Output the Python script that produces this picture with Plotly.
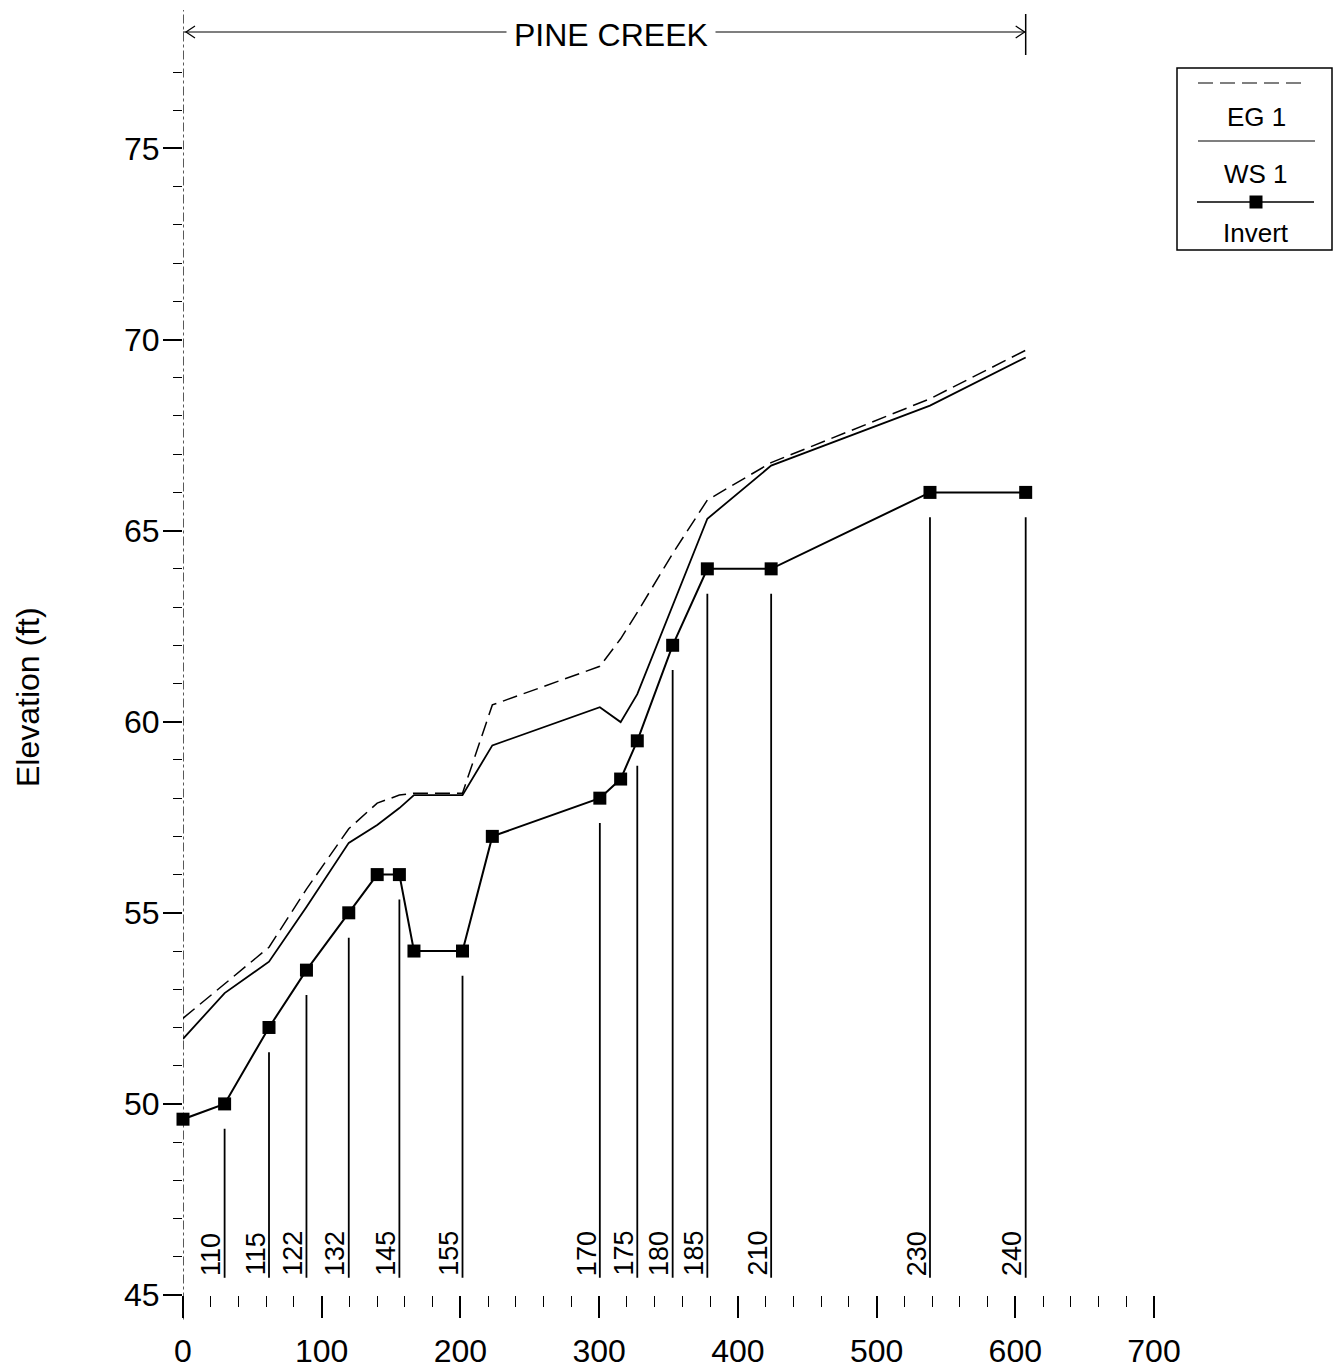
import plotly.graph_objects as go

# ---------------- data ----------------
stations = [0, 30, 62, 89, 119.5, 140, 156, 166.5, 201.5, 223, 300.5, 315.5,
            327.5, 353, 378, 424, 538.5, 607.5]
invert = [49.6, 50.0, 52.0, 53.5, 55.0, 56.0, 56.0, 54.0, 54.0, 57.0, 58.0, 58.5,
          59.5, 62.0, 64.0, 64.0, 66.0, 66.0]
ws1 = [51.7, 52.9, 53.72, 55.15, 56.83, 57.3, 57.74, 58.08, 58.08, 59.38, 60.38, 59.99,
       60.72, 63.05, 65.31, 66.70, 68.27, 69.53]
eg1 = [52.24, 53.15, 54.1, 55.62, 57.2, 57.87, 58.08, 58.13, 58.13, 60.44, 61.45, 62.17,
       62.86, 64.4, 65.8, 66.78, 68.45, 69.72]

section_labels = ["110", "115", "122", "132", "145", "155", "170", "175", "180",
                  "185", "210", "230", "240"]
section_stations = [30, 62, 89, 119.5, 156, 201.5, 300.5, 327.5, 353, 378, 424,
                    538.5, 607.5]

reach_name = "PINE CREEK"
x_ticks = [0, 100, 200, 300, 400, 500, 600, 700]
y_ticks = [45, 50, 55, 60, 65, 70, 75]

# ---------------- layout helpers ----------------
W, H = 1340, 1370
ML, MR, MT, MB = 183, 186, 72, 75
PW, PH = W - ML - MR, H - MT - MB
FONT = "Liberation Sans, Arial, sans-serif"


def px_x(p):
    return (p - ML) / PW


def px_y(p):
    return (H - MB - p) / PH


fig = go.Figure()

fig.add_trace(go.Scatter(x=stations, y=eg1, mode="lines", name="EG 1",
                         line=dict(color="black", width=1.5, dash="15px,7px"),
                         showlegend=False, cliponaxis=False))
fig.add_trace(go.Scatter(x=stations, y=ws1, mode="lines", name="WS 1",
                         line=dict(color="black", width=1.8),
                         showlegend=False, cliponaxis=False))
fig.add_trace(go.Scatter(x=stations, y=invert, mode="lines+markers", name="Invert",
                         line=dict(color="black", width=2),
                         marker=dict(symbol="square", size=13, color="black"),
                         showlegend=False, cliponaxis=False))

shapes = []
annotations = []

inv_lookup = dict(zip(stations, invert))
for lab, st in zip(section_labels, section_stations):
    shapes.append(dict(type="line", xref="x", yref="y", x0=st, x1=st,
                       y0=45.45, y1=inv_lookup[st] - 0.65,
                       line=dict(color="black", width=1.8)))
    annotations.append(dict(x=st, y=45.45, xref="x", yref="y", text=lab,
                            textangle=-90, showarrow=False, xanchor="right",
                            yanchor="bottom", xshift=4,
                            font=dict(family=FONT, size=27, color="black")))

# y axis dash-dot line (extends above plot)
shapes.append(dict(type="line", xref="x", yref="paper", x0=0, x1=0,
                   y0=-0.02, y1=px_y(10),
                   line=dict(color="black", width=1.3, dash="dashdot")))

# reach arrow at top
y_arrow = px_y(32)
shapes.append(dict(type="line", xref="x", yref="paper", x0=0, x1=stations[-1],
                   y0=y_arrow, y1=y_arrow, line=dict(color="black", width=1.2)))
shapes.append(dict(type="path", xref="x", yref="paper", xsizemode="pixel",
                   ysizemode="pixel", xanchor=0, yanchor=y_arrow,
                   path="M 12,6 L 3,0 L 12,-6", line=dict(color="black", width=1.2)))
shapes.append(dict(type="path", xref="x", yref="paper", xsizemode="pixel",
                   ysizemode="pixel", xanchor=stations[-1], yanchor=y_arrow,
                   path="M -10,6 L -1,0 L -10,-6", line=dict(color="black", width=1.2)))
shapes.append(dict(type="line", xref="x", yref="paper", x0=stations[-1],
                   x1=stations[-1], y0=px_y(55), y1=px_y(14),
                   line=dict(color="black", width=1.5)))
annotations.append(dict(x=px_x(611), y=px_y(35), xref="paper", yref="paper",
                        xanchor="center", yanchor="middle",
                        text=reach_name, showarrow=False, bgcolor="white",
                        borderpad=7, font=dict(family=FONT, size=32, color="black")))

# y title
annotations.append(dict(x=px_x(28), y=px_y(697), xref="paper", yref="paper",
                        xanchor="center", yanchor="middle",
                        text="Elevation (ft)", textangle=-90, showarrow=False,
                        font=dict(family=FONT, size=32, color="black")))

# manual legend
shapes.append(dict(type="rect", xref="paper", yref="paper",
                   x0=px_x(1177), x1=px_x(1332), y0=px_y(250), y1=px_y(68),
                   line=dict(color="black", width=1.5), fillcolor="white"))
shapes.append(dict(type="line", xref="paper", yref="paper",
                   x0=px_x(1198), x1=px_x(1305), y0=px_y(83), y1=px_y(83),
                   line=dict(color="black", width=1.2, dash="15px,7px")))
shapes.append(dict(type="line", xref="paper", yref="paper",
                   x0=px_x(1198), x1=px_x(1315), y0=px_y(141), y1=px_y(141),
                   line=dict(color="black", width=1.2)))
shapes.append(dict(type="line", xref="paper", yref="paper",
                   x0=px_x(1197), x1=px_x(1314), y0=px_y(202), y1=px_y(202),
                   line=dict(color="black", width=1.5)))
shapes.append(dict(type="rect", xref="paper", yref="paper",
                   x0=px_x(1249.5), x1=px_x(1262.5), y0=px_y(208.5), y1=px_y(195.5),
                   line=dict(color="black", width=0), fillcolor="black"))
for txt, yy in [("EG 1", 117), ("WS 1", 174), ("Invert", 233)]:
    annotations.append(dict(x=px_x(1256), y=px_y(yy), xref="paper", yref="paper",
                            xanchor="center", yanchor="middle",
                            text=txt, showarrow=False,
                            font=dict(family=FONT, size=26, color="black")))

fig.update_layout(
    width=W, height=H,
    margin=dict(l=ML, r=MR, t=MT, b=MB, autoexpand=False),
    paper_bgcolor="white", plot_bgcolor="white",
    font=dict(family=FONT, color="black"),
    shapes=shapes, annotations=annotations,
    showlegend=False,
    xaxis=dict(range=[0, 700], tickvals=x_ticks, ticks="outside", ticklen=22,
               tickwidth=1.5, tickcolor="black", showgrid=False, zeroline=False,
               showline=False, ticklabelstandoff=6, automargin=False,
               tickfont=dict(family=FONT, size=32, color="black"),
               minor=dict(dtick=20, tick0=0, ticks="outside", ticklen=11,
                          tickwidth=1.3, tickcolor="black", showgrid=False)),
    yaxis=dict(range=[45, 77], tickvals=y_ticks, ticks="outside", ticklen=19,
               tickwidth=1.5, tickcolor="black", showgrid=False, zeroline=False,
               showline=False, ticklabelstandoff=-3, automargin=False,
               tickfont=dict(family=FONT, size=32, color="black"),
               minor=dict(dtick=1, tick0=45, ticks="outside", ticklen=9,
                          tickwidth=1.2, tickcolor="black", showgrid=False)),
)

fig.write_html("out.html")
